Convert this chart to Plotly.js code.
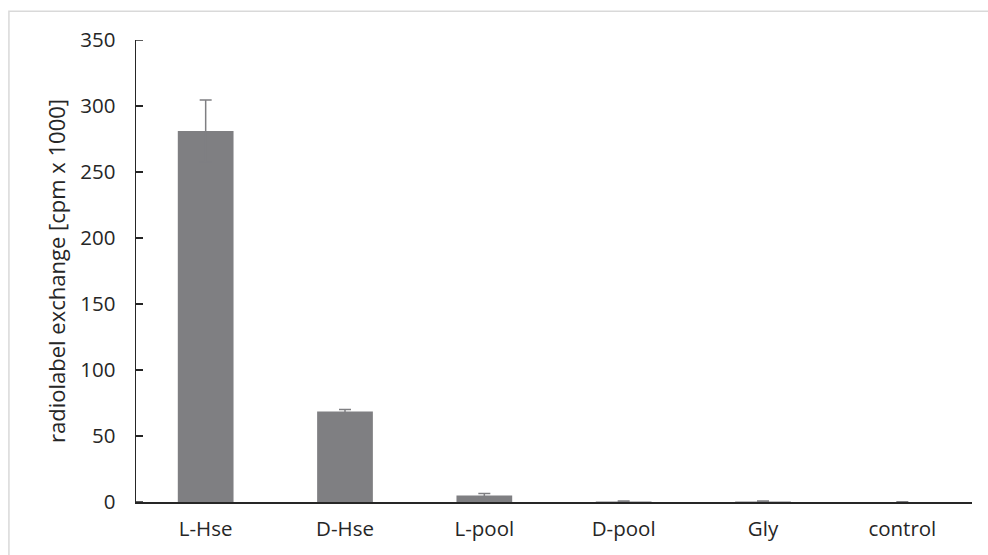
<!DOCTYPE html>
<html>
<head>
<meta charset="utf-8">
<script src="https://cdn.plot.ly/plotly-3.0.1.min.js"></script>
<style>html,body{margin:0;padding:0;background:#fff;}#chart{width:988px;height:555px;}</style>
</head>
<body>
<div id="chart"></div>
<script>
const categories = ["L-Hse", "D-Hse", "L-pool", "D-pool", "Gly", "control"];
const values = [281, 68.5, 5.0, 0.3, 0.3, 0.05];
const errors = [23.5, 1.5, 1.5, 0.5, 0.5, 0.05];
const yTicks = [0, 50, 100, 150, 200, 250, 300, 350];

const trace = {
  type: "bar",
  x: categories,
  y: values,
  width: 0.4,
  marker: {color: "#7f7f82"},
  error_y: {type: "data", array: errors, visible: true, color: "#7f7f82", thickness: 1.5, width: 6}
};

const plotW = 988 - 136 - 16;
const tickShapes = yTicks.map(v => ({
  type: "line", xref: "paper", yref: "y",
  x0: 0, x1: 7 / plotW, y0: v, y1: v,
  line: {color: "#262626", width: 1.5}, layer: "above"
}));

const layout = {
  width: 988, height: 555,
  margin: {l: 136, r: 16, t: 40, b: 53},
  paper_bgcolor: "#fff", plot_bgcolor: "#fff",
  showlegend: false,
  font: {family: "Open Sans, sans-serif", color: "#262626"},
  xaxis: {
    type: "category",
    showline: true, linecolor: "#262626", linewidth: 1.5,
    ticks: "", showgrid: false, zeroline: false,
    tickfont: {size: 20.5, color: "#262626"},
    ticklabelstandoff: 8,
    fixedrange: true
  },
  yaxis: {
    range: [0, 350],
    tickvals: yTicks,
    showline: true, linecolor: "#262626", linewidth: 1.5,
    ticks: "inside", ticklen: 7, tickcolor: "#262626", tickwidth: 1.5,
    showgrid: false, zeroline: false,
    tickfont: {size: 20.5, color: "#262626"},
    ticklabelstandoff: 15,
    title: {text: "radiolabel exchange [cpm x 1000]", font: {size: 22, color: "#262626"}, standoff: 8},
    fixedrange: true
  },
  shapes: [{
    type: "rect", xref: "paper", yref: "paper",
    x0: -0.152, x1: 1.2, y0: -0.5, y1: 1.062,
    line: {color: "#d9d9d9", width: 1.5}, fillcolor: "rgba(0,0,0,0)", layer: "below"
  }].concat(tickShapes)
};

Plotly.newPlot("chart", [trace], layout, {displayModeBar: false, staticPlot: true});
</script>
</body>
</html>
